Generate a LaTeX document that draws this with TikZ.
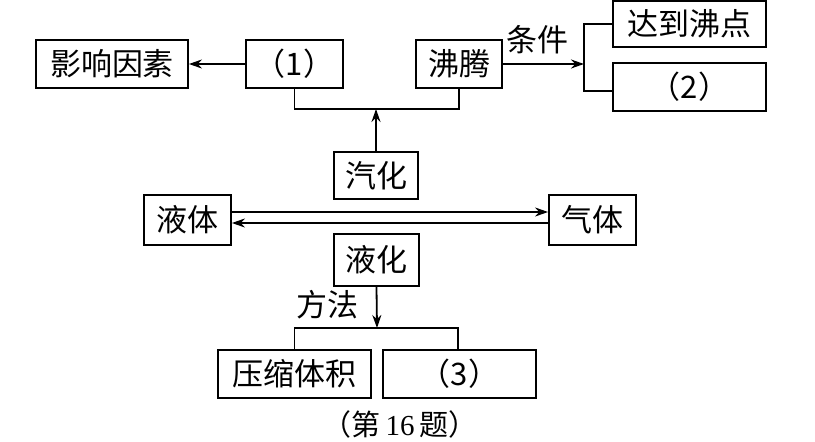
\documentclass[tikz,border=0pt]{standalone}
\usepackage{fontspec}
\setmainfont{Liberation Serif}
\newfontfamily\cjk{Noto Sans CJK SC}
\usetikzlibrary{arrows.meta}
\begin{document}
\begin{tikzpicture}[x=1pt,y=-1pt,
  box/.style={draw,line width=1.8pt,inner sep=0pt,font=\cjk\fontsize{31}{32}\selectfont},
  conn/.style={line width=1.8pt},
  arr/.style={conn,-{Stealth[length=13pt,width=9pt]}},
  lbl/.style={inner sep=0pt,font=\cjk\fontsize{31}{32}\selectfont}]
\useasboundingbox (0,0) rectangle (815,442);
\node[box,minimum width=152pt,minimum height=48pt] (yx) at (112,64) {影响因素};
\node[box,minimum width=97pt,minimum height=48pt] (n1) at (294.5,64) {（1）};
\node[box,minimum width=86pt,minimum height=48pt] (ft) at (459,64) {沸腾};
\node[box,minimum width=153pt,minimum height=46pt] (ddf) at (689.5,24) {达到沸点};
\node[box,minimum width=153pt,minimum height=48pt] (n2) at (689.5,87) {（2）};
\node[box,minimum width=84pt,minimum height=47pt] (qh) at (376,175.5) {汽化};
\node[box,minimum width=87pt,minimum height=50pt] (yt) at (187.5,220) {液体};
\node[box,minimum width=87pt,minimum height=50pt] (qt) at (592.5,220) {气体};
\node[box,minimum width=85pt,minimum height=52pt] (yh) at (376.5,260) {液化};
\node[box,minimum width=153pt,minimum height=48pt] (ys) at (294.5,374) {压缩体积};
\node[box,minimum width=153pt,minimum height=48pt] (n3) at (459.5,374) {（3）};
\node[lbl] (tj) at (537,40) {条件};
\node[lbl] (ff) at (327,305) {方法};
\node[inner sep=0pt,font=\cjk\fontsize{29}{30}\selectfont] (cap) at (400,424) {（第\,{\fontspec{Liberation Serif}16}\,题）};
% coordinates
\coordinate (b1) at (376,109);
\coordinate (b2) at (584,64);
\coordinate (b3) at (377,328);
% (1) / boiling bracket
\draw[arr] (n1.west) -- (yx.east);
\draw[conn] (n1.south) |- (b1) -| (ft.south);
\draw[arr] (qh.north) -- (b1);
% conditions bracket
\draw[arr] (ft.east) -- (b2);
\draw[conn] (ddf.west) -| (b2) |- ([yshift=-4pt]n2.west);
% liquid <-> gas
\draw[arr] ([yshift=8pt]yt.east) -- ([yshift=8pt]qt.west);
\draw[arr] ([yshift=-3pt]qt.west) -- ([yshift=-3pt]yt.east);
% methods
\draw[arr] (yh.south) -- (b3);
\draw[conn] (ys.north) |- (b3) -| ([xshift=-1.5pt]n3.north);
\end{tikzpicture}
\end{document}
